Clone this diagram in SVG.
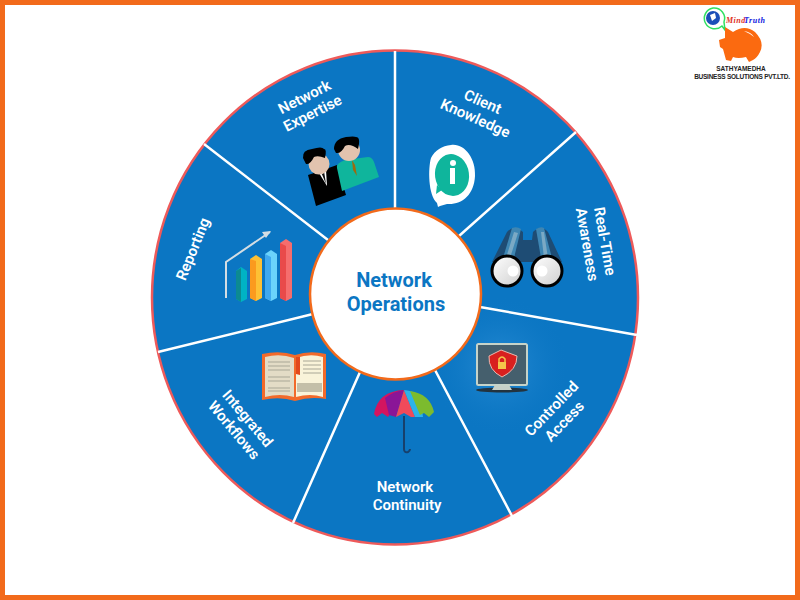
<svg xmlns="http://www.w3.org/2000/svg" width="800" height="600" viewBox="0 0 800 600">
<defs>
<radialGradient id="glow"><stop offset="0" stop-color="#3d9be0" stop-opacity=".6"/><stop offset="1" stop-color="#0b76c3" stop-opacity="0"/></radialGradient>
<linearGradient id="lens" x1="0" y1="0" x2="1" y2="1"><stop offset="0" stop-color="#fff"/><stop offset="1" stop-color="#cfcfcf"/></linearGradient>
</defs>
<style>
.l{font-family:Roboto,"Liberation Sans",sans-serif;font-weight:600;font-size:15px;fill:#fff;text-anchor:middle}
.c{font-family:Roboto,"Liberation Sans",sans-serif;font-weight:700;font-size:20px;fill:#0b76c3;text-anchor:middle}
.s{stroke:#fff;stroke-width:2.500;fill:none}
.b{font-family:"Liberation Sans",sans-serif;font-size:6.500px;font-weight:700;fill:#222;text-anchor:middle}
</style>
<rect x="2.500" y="2.500" width="795" height="595" fill="#fff" stroke="#f26a1b" stroke-width="5"/>
<g id="wheel">
<ellipse cx="395" cy="297.500" rx="243" ry="247" fill="#0b76c3" stroke="#ee5a5a" stroke-width="2.500"/>
<circle cx="500" cy="366" r="70" fill="url(#glow)"/>
</g>
<g id="connectors">
<path class="s" d="M395 51V208M576 132L459 236M637 335L480 307M512 516L435 370M293 523L360 372M158 352L313 314M204 144L328 240"/>
</g>
<g id="center">
<circle cx="395.500" cy="294" r="85.500" fill="#fff" stroke="#f26a1b" stroke-width="2.500"/>
<text class="c" x="394" y="287">Network</text>
<text class="c" x="396" y="311">Operations</text>
</g>
<g id="node-expertise">
<g transform="rotate(-27 309 106)"><text class="l" x="309" y="101">Network</text><text class="l" x="309" y="119">Expertise</text></g>
<path d="M308 175L320 171L337 165L346 195L316 206Z" fill="#000"/>
<path d="M337 168Q336 163 345 160L368 157Q372 157 374 162L379 177L342 191Z" fill="#0fb59c"/>
<path d="M352 160L355 165L357 176L353 170Z" fill="#9c6a10"/>
<path d="M319 173L326 170L327 186Z" fill="#fff"/><path d="M321 172L324 171L326 184Z" fill="#111"/>
<circle cx="319" cy="164" r="10.500" fill="#e2c3ae"/>
<path d="M303 158Q302 150 312 149Q322 146 324 149Q327 149 325 158Q318 155 314 157Q310 165 306 164Z" fill="#000"/>
<circle cx="349" cy="150" r="11" fill="#e2c3ae"/>
<path d="M334 149Q334 139 346 137Q354 136 356 137Q361 137 358 149Q350 143 345 146Q341 154 336 153Z" fill="#000"/>
</g>
<g id="node-client">
<g transform="rotate(24 479 110)"><text class="l" x="479" y="106">Client</text><text class="l" x="479" y="124">Knowledge</text></g>
<path d="M451 145C464 143 476 158 475 176C474 195 462 205 447 204L440 206L438 207L437 203C428 195 428 168 431 158C435 150 442 146 451 145Z" fill="#fff"/>
<ellipse cx="452" cy="175" rx="17" ry="21" fill="#0fb59c" transform="rotate(-8 452 175)"/>
<path d="M437 185L436 194L442 190Z" fill="#0fb59c"/>
<rect x="450" y="168" width="5" height="16" fill="#fff"/><circle cx="453" cy="163" r="3" fill="#fff"/>
</g>
<g id="node-awareness">
<g transform="rotate(80 595 243)"><text class="l" x="595" y="238">Real-Time</text><text class="l" x="595" y="256">Awareness</text></g>
<path d="M492 262L507 232Q514 224 523 232L523 240H532L533 232Q541 224 548 232L562 262Z" fill="#1e4c74"/>
<path d="M512 228Q517 226 521 229L514 258H503Z" fill="#3e86b3"/>
<path d="M536 229Q541 226 544 228L552 258H541Z" fill="#3e86b3"/>
<path d="M514 232L518 233L510 258H506ZM541 232L544 232L548 258H544Z" fill="#7ba9c4"/>
<circle cx="507" cy="271" r="15" fill="url(#lens)" stroke="#000" stroke-width="3"/>
<circle cx="547" cy="271" r="15" fill="url(#lens)" stroke="#000" stroke-width="3"/>
<circle cx="513" cy="271" r="5.500" fill="#fff"/><circle cx="542" cy="271" r="5.500" fill="#fff"/>
</g>
<g id="node-access">
<g transform="rotate(-46 558 415)"><text class="l" x="558" y="411">Controlled</text><text class="l" x="558" y="429">Access</text></g>
<ellipse cx="502" cy="390" rx="26" ry="2.500" fill="#23333f"/>
<path d="M495 385H509L512 390H492Z" fill="#c6d0c8"/>
<rect x="477" y="344" width="50" height="41" rx="1.500" fill="#455f6d" stroke="#c6d3c9" stroke-width="2"/>
<path d="M501 350L517 356Q517 370 502 377Q488 370 489 356Z" fill="#d8201f" stroke="#e8b9b0" stroke-width="1"/>
<rect x="498" y="362" width="8" height="7" fill="#f5c54a"/><path d="M499 362V359Q502 355 505 359V362" fill="none" stroke="#f5c54a" stroke-width="1.500"/>
</g>
<g id="node-continuity">
<text class="l" x="405" y="492">Network</text><text class="l" x="407" y="510">Continuity</text>
<path d="M374 414Q378 391 404 390L388 417L382 413L377 417Z" fill="#d3155f"/>
<path d="M385 398Q394 391 404 390L396 417L389 415Z" fill="#8a1597"/>
<path d="M404 390L396 417L404 413L411 417L415 417Z" fill="#f04a5a"/>
<path d="M404 390Q414 391 420 396L423 417L415 417Z" fill="#2cb3e8"/>
<path d="M410 391Q430 394 434 412L429 417L424 413L420 415Z" fill="#7cbb2e"/>
<path d="M404 416V449Q404 453 408 452Q410 451 410 449" fill="none" stroke="#17406c" stroke-width="2"/>
</g>
<g id="node-workflows">
<g transform="rotate(50 240 425)"><text class="l" x="240" y="420">Integrated</text><text class="l" x="240" y="438">Workflows</text></g>
<path d="M262 354Q280 350 295 355Q310 350 326 354V399Q310 396 295 401Q280 396 262 400Z" fill="#f26a2a"/>
<path d="M265 357Q280 353 294 358V397Q280 393 265 397Z" fill="#e3dcc6"/>
<path d="M296 358Q310 353 323 357V397Q310 393 296 397Z" fill="#f9f3d9"/>
<path d="M296 357H300V375L296 374Z" fill="#e2491c"/>
<rect x="297" y="383" width="25" height="9" fill="#c4bfa8"/>
<path d="M268 362H290M268 366H290M268 370H290M268 377H290M268 381H290M268 388H290M268 391H290M303 361H321M303 365H321M303 369H321M303 373H321" stroke="#a9a796" stroke-width="1" fill="none"/>
</g>
<g id="node-reporting">
<text class="l" transform="rotate(-68 193 249)" x="193" y="254">Reporting</text>
<path d="M226 298V262L270 232" fill="none" stroke="#d4dde3" stroke-width="2"/>
<path d="M262 232L271 231L266 238Z" fill="#d4dde3"/>
<path d="M236 271L241 267L247 271V299L241 302L236 299Z" fill="#00b3c4"/><path d="M236 271L241 268V302L236 299Z" fill="#0c8a92"/>
<path d="M250 259L256 255L262 259V298L256 301L250 298Z" fill="#fdc034"/><path d="M250 259L256 261V301L250 298Z" fill="#fb9a1e"/>
<path d="M265 254L271 250L277 254V298L271 301L265 298Z" fill="#6bd3fb"/><path d="M265 254L271 257V301L265 298Z" fill="#3fa9f0"/>
<path d="M280 243L286 239L292 243V298L286 301L280 298Z" fill="#f56d6d"/><path d="M280 243L286 246V301L280 298Z" fill="#e94a4a"/>
</g>
<g id="logo">
<path d="M713 8A10.500 10.500 0 1 0 722 26L725 30L724 22A10.500 10.500 0 0 0 713 8Z" fill="#fff" stroke="#2fe060" stroke-width="1.500"/>
<circle cx="713" cy="18" r="7" fill="#1b4fb8"/><path d="M710 15L715 13L716 18L712 21Z" fill="#fff"/>
<text x="726" y="23" font-family="Liberation Serif,serif" font-size="8" font-weight="700" font-style="italic" fill="#e0301e" letter-spacing=".5">Mind</text>
<text x="744" y="23" font-family="Liberation Serif,serif" font-size="8" font-weight="700" font-style="italic" fill="#1020e0" letter-spacing=".5">Truth</text>
<path d="M725 27L733 32Q745 24 755 32Q765 42 760 52Q757 58 753 60L749 62L746 57Q738 59 733 57L731 61L726 60L723 49L720 47L719 40L725 38Z" fill="#fb6a10"/>
<path d="M744 31Q751 32 754 37Q749 33 744 31Z" fill="#fff"/>
<text class="b" x="741" y="71">SATHYAMEDHA</text>
<text class="b" x="742" y="79" style="letter-spacing:-.25px">BUSINESS SOLUTIONS PVT.LTD.</text>
</g>
</svg>
